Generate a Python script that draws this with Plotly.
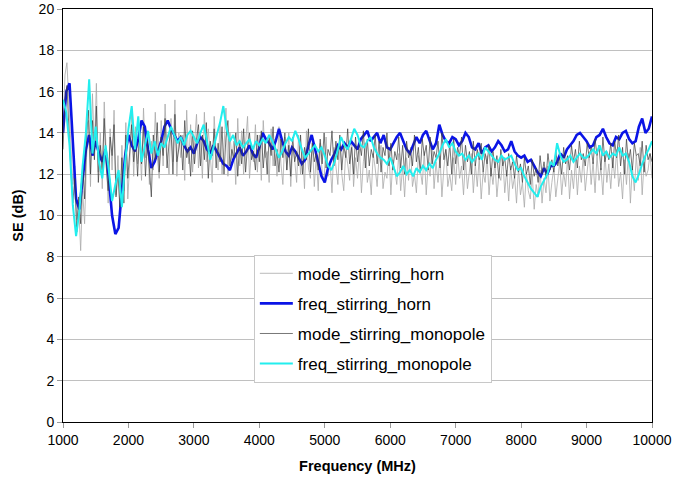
import plotly.graph_objects as go

# ---- data (SE in dB) ----
# mode stirring series: one value every 30 MHz, 1000 .. 10000 MHz
MODE_STEP = 30
mode_stirring_horn = [
    14.0, 16.8, 17.4, 15.2, 13.0, 11.5, 12.4, 9.8, 10.5, 8.3,
    11.2, 9.6, 12.8, 14.6, 11.4, 15.9, 13.2, 16.4, 12.1, 14.0,
    11.3, 15.5, 13.0, 10.6, 14.2, 12.2, 15.1, 11.0, 12.9, 9.9,
    13.4, 11.2, 14.5, 10.8, 12.6, 15.0, 11.9, 14.3, 12.5, 13.8,
    11.7, 15.2, 12.8, 14.1, 11.5, 13.6, 12.2, 15.0, 12.9, 11.8,
    14.6, 12.4, 15.4, 13.1, 12.0, 14.7, 12.6, 15.6, 11.9, 14.0,
    12.8, 13.9, 11.7, 15.1, 12.5, 14.4, 12.1, 13.5, 14.9, 12.3,
    13.7, 11.8, 15.0, 12.6, 14.2, 12.9, 11.6, 14.8, 13.0, 12.2,
    14.5, 12.0, 13.3, 15.2, 11.9, 14.0, 12.7, 13.6, 11.5, 14.7,
    12.4, 14.1, 12.0, 13.5, 14.8, 11.8, 13.2, 12.6, 14.4, 12.1,
    13.9, 11.7, 14.6, 12.8, 13.1, 11.6, 14.2, 12.4, 13.7, 11.9,
    14.3, 12.5, 11.5, 13.8, 12.2, 14.0, 11.4, 13.3, 12.7, 11.6,
    13.9, 12.0, 13.2, 11.3, 14.1, 12.3, 11.8, 13.6, 11.4, 12.9,
    11.2, 13.5, 12.1, 11.6, 13.8, 11.9, 12.6, 11.1, 13.3, 12.4,
    11.5, 13.6, 12.0, 11.2, 13.1, 12.5, 11.7, 13.9, 11.4, 12.8,
    11.8, 13.2, 11.1, 12.6, 13.5, 11.6, 12.2, 11.0, 13.0, 12.3,
    11.4, 12.9, 13.4, 11.3, 12.1, 11.8, 13.2, 11.0, 12.7, 12.2,
    11.5, 13.0, 11.2, 12.4, 10.9, 12.8, 11.7, 13.3, 11.4, 12.0,
    11.1, 12.9, 12.3, 11.5, 13.1, 11.0, 12.5, 11.9, 13.4, 11.3,
    12.6, 11.6, 12.9, 10.9, 12.3, 13.2, 11.4, 12.0, 11.2, 12.8,
    11.5, 13.1, 11.8, 12.4, 11.0, 12.7, 11.3, 12.2, 13.0, 11.1,
    12.5, 11.4, 12.8, 10.8, 12.1, 11.6, 12.9, 11.0, 12.3, 11.5,
    12.6, 10.9, 12.0, 11.7, 12.8, 11.1, 12.2, 10.7, 12.4, 11.3,
    11.9, 10.6, 12.3, 11.0, 11.6, 10.4, 12.1, 11.2, 10.8, 12.0,
    10.3, 11.5, 10.9, 12.2, 10.6, 11.8, 11.1, 12.4, 10.7, 11.6,
    12.3, 10.9, 11.7, 12.6, 11.0, 12.1, 11.4, 12.8, 10.8, 12.2,
    11.3, 12.7, 11.0, 12.4, 11.6, 12.9, 11.2, 12.0, 13.1, 11.5,
    12.6, 11.1, 12.9, 11.7, 12.3, 11.0, 13.0, 11.6, 12.5, 11.3,
    12.8, 11.8, 13.2, 11.4, 12.1, 10.8, 12.7, 11.5, 13.0, 10.6,
    12.4, 11.2, 12.9, 11.7, 13.3, 11.0, 12.6, 11.9, 12.2, 13.0,
    11.8,
]
mode_stirring_monopole = [
    13.2, 15.6, 16.3, 14.1, 12.2, 10.6, 11.8, 9.2, 10.9, 9.6,
    12.5, 10.8, 13.9, 15.1, 12.0, 14.6, 12.7, 15.3, 11.6, 13.4,
    12.2, 14.7, 12.4, 11.2, 13.8, 12.9, 14.4, 10.9, 12.1, 10.4,
    12.8, 10.6, 13.9, 11.8, 13.2, 14.4, 12.6, 13.7, 11.9, 14.1,
    12.5, 14.3, 11.9, 13.6, 12.3, 10.9, 13.9, 12.7, 14.5, 12.1,
    13.8, 12.9, 14.7, 12.3, 13.5, 14.2, 12.0, 14.9, 12.6, 13.4,
    13.9, 12.2, 14.6, 12.8, 13.3, 11.9, 14.1, 12.5, 13.7, 14.4,
    12.4, 13.9, 12.7, 14.5, 11.8, 13.6, 12.9, 14.2, 12.3, 13.5,
    12.6, 14.3, 12.0, 13.8, 14.6, 12.4, 13.2, 12.8, 14.0, 11.9,
    13.6, 12.5, 14.2, 12.1, 13.4, 14.0, 12.7, 13.1, 12.2, 13.9,
    12.6, 14.1, 12.3, 13.5, 12.0, 13.8, 12.9, 14.3, 12.4, 13.2,
    12.1, 13.7, 12.8, 14.0, 12.2, 13.4, 11.9, 13.8, 12.6, 13.1,
    12.4, 13.9, 12.0, 13.3, 12.7, 14.2, 12.1, 13.5, 12.6, 13.0,
    12.2, 13.7, 12.5, 14.0, 12.3, 13.2, 12.9, 14.1, 12.4, 13.6,
    12.7, 13.9, 12.2, 13.4, 12.8, 14.2, 12.5, 13.3, 12.0, 13.8,
    12.6, 13.5, 12.9, 14.1, 12.3, 13.7, 12.4, 13.2, 12.8, 13.9,
    12.5, 13.6, 12.1, 13.3, 12.9, 14.0, 12.4, 13.5, 12.2, 13.1,
    12.7, 13.8, 12.3, 13.4, 12.0, 13.6, 12.8, 13.2, 12.4, 13.9,
    12.6, 13.3, 12.1, 13.7, 12.9, 13.4, 12.2, 13.8, 12.5, 13.1,
    12.8, 13.6, 12.3, 14.0, 12.7, 13.2, 12.4, 13.5, 12.0, 13.7,
    12.5, 13.3, 12.9, 13.8, 12.2, 13.4, 12.6, 13.1, 12.0, 13.6,
    12.4, 13.2, 12.7, 13.5, 12.1, 13.0, 12.5, 13.4, 11.9, 13.1,
    12.3, 12.9, 11.8, 13.2, 12.4, 12.8, 11.9, 13.0, 12.2, 12.6,
    11.8, 12.9, 12.1, 12.5, 11.6, 12.8, 12.0, 12.4, 11.5, 12.7,
    11.9, 12.3, 11.6, 12.9, 12.0, 12.6, 11.8, 13.0, 12.2, 12.7,
    12.1, 13.1, 12.4, 12.8, 12.0, 13.3, 12.5, 12.9, 12.2, 13.4,
    12.6, 13.2, 12.3, 13.6, 12.7, 13.0, 12.4, 13.5, 12.8, 13.3,
    12.5, 13.7, 12.9, 13.4, 12.2, 13.8, 12.6, 13.1, 12.7, 13.5,
    12.3, 13.6, 12.8, 13.9, 12.4, 13.3, 12.0, 13.7, 12.6, 13.2,
    12.2, 13.5, 12.9, 13.0, 12.4, 13.6, 12.1, 13.4, 12.7, 13.0,
    12.6,
]

# frequency stirring series: one value every 50 MHz, 1000 .. 10000 MHz
FREQ_STEP = 50
freq_stirring_horn = [
    14.0, 16.0, 16.4, 13.8, 10.8, 10.3, 11.8, 13.2, 13.9, 12.9,
    13.6, 13.0, 12.6, 13.2, 11.8, 10.0, 9.1, 9.4, 11.2, 12.9,
    13.9, 13.4, 13.1, 13.7, 14.6, 14.3, 13.2, 12.3, 12.6, 13.1,
    13.6, 14.3, 14.6, 14.2, 13.9, 13.6, 13.8, 13.4, 13.1, 13.3,
    13.0, 13.5, 13.8, 13.6, 13.2, 13.0, 13.4, 13.1, 12.8, 12.5,
    12.4, 12.2, 12.7, 13.0, 13.3, 12.9, 13.1, 13.4, 13.0, 12.8,
    13.3, 14.0, 13.7, 13.5, 13.2, 13.6, 14.2, 13.6, 13.1, 12.9,
    13.3, 13.1, 12.8, 12.5, 12.7, 13.4, 13.9, 13.2, 12.6, 11.9,
    11.6, 12.3, 12.7, 13.0, 13.4, 13.2, 13.5, 13.3, 13.6, 13.4,
    13.2, 13.7, 13.9, 14.1, 13.6, 13.8, 14.0, 13.5, 13.9, 13.3,
    13.2, 13.5, 13.8, 14.0, 13.6, 13.2, 13.0, 13.4, 13.8, 13.5,
    13.9, 14.1, 13.6, 13.2, 13.5, 14.4, 13.9, 13.6, 13.5, 13.8,
    13.7, 13.4, 13.6, 14.0, 13.8, 13.3, 13.2, 13.5, 13.0, 13.3,
    13.4, 13.1, 13.3, 13.6, 13.4, 13.1, 13.2, 13.6, 13.1, 12.9,
    12.8, 12.9, 12.6, 12.7, 12.4, 12.1, 11.9, 12.3, 12.0, 12.4,
    12.4, 12.6, 13.0, 12.8, 13.2, 13.4, 13.6, 13.9, 14.0, 13.8,
    13.6, 13.3, 13.4, 13.8, 13.9, 14.2, 13.8, 13.5, 13.4, 13.8,
    13.7, 14.0, 14.1, 13.7, 13.5, 13.6, 14.3, 14.7, 14.0, 14.2,
    14.8,
]
freq_stirring_monopole = [
    15.6, 15.0, 13.4, 10.5, 9.0, 10.2, 12.4, 14.0, 16.6, 13.0,
    14.3, 12.6, 11.8, 13.4, 12.2, 10.7, 11.5, 12.2, 10.4, 12.6,
    14.2, 15.3, 13.2, 14.8, 12.6, 13.4, 14.1, 13.0, 13.6, 12.9,
    13.5, 13.3, 13.8, 14.3, 13.9, 13.5, 13.8, 13.4, 13.9, 14.1,
    13.8, 13.5, 14.0, 14.4, 13.6, 12.7, 13.3, 13.9, 14.5, 15.3,
    14.2, 13.6, 13.9, 13.4, 13.6, 13.3, 13.5, 13.7, 13.2, 13.6,
    13.4, 13.7, 13.5, 13.9, 13.6, 13.2, 12.8, 13.1, 13.5, 13.8,
    13.6, 14.1, 13.7, 13.2, 12.8, 13.0, 13.2, 13.4, 13.1, 13.3,
    12.9, 12.4, 12.2, 12.6, 13.2, 13.8, 13.4, 13.2, 13.7, 14.2,
    13.9, 13.4, 13.3, 13.6, 13.8, 13.3, 13.0, 12.8, 12.7, 12.5,
    12.8, 12.3, 11.9, 12.1, 12.4, 12.0, 12.2, 11.9, 12.3, 12.1,
    12.4, 12.2, 12.5, 12.3, 12.7, 13.0, 13.4, 13.7, 13.3, 13.5,
    13.1, 12.9, 13.0, 12.7, 12.9, 12.6, 12.8, 13.0, 12.7, 13.3,
    13.1, 12.9, 12.7, 12.6, 12.9, 12.7, 12.8, 12.9, 12.5, 12.2,
    12.3, 11.9, 11.6, 11.3, 11.1, 10.9, 11.4, 11.7, 12.0, 12.6,
    12.4, 13.5, 12.9, 12.6, 12.7, 12.9, 12.6, 12.8, 13.0, 12.8,
    12.8, 13.0, 13.2, 13.0, 13.4, 12.9, 13.1, 12.8, 13.0, 12.9,
    13.3, 12.9, 13.0, 12.6, 11.9, 11.6, 12.0, 12.5, 12.9, 13.2,
    13.6,
]

x_ticks = [1000, 2000, 3000, 4000, 5000, 6000, 7000, 8000, 9000, 10000]
y_ticks = [0, 2, 4, 6, 8, 10, 12, 14, 16, 18, 20]

f_mode = [1000 + MODE_STEP * i for i in range(len(mode_stirring_horn))]
f_freq = [1000 + FREQ_STEP * i for i in range(len(freq_stirring_horn))]

FONT = "Arial, Liberation Sans, sans-serif"

fig = go.Figure()
series = [
    ("mode_stirring_horn", f_mode, mode_stirring_horn, "#aaaaaa", 0.8),
    ("freq_stirring_horn", f_freq, freq_stirring_horn, "#0a14e6", 2.6),
    ("mode_stirring_monopole", f_mode, mode_stirring_monopole, "#3c3c3c", 0.7),
    ("freq_stirring_monopole", f_freq, freq_stirring_monopole, "#22eeee", 2.0),
]
for name, xs, ys, color, w in series:
    fig.add_trace(go.Scatter(
        x=xs, y=ys, mode="lines", name=name, legendgroup=name,
        line=dict(color=color, width=w),
    ))

fig.update_layout(
    width=687, height=478,
    margin=dict(l=63, r=35, t=9, b=56),
    paper_bgcolor="white", plot_bgcolor="white",
    font=dict(family=FONT, size=14, color="black"),
    showlegend=True,
    legend=dict(
        x=0.324, y=0.405, xanchor="left", yanchor="top",
        bgcolor="white", bordercolor="#c8c8c8", borderwidth=1,
        font=dict(family=FONT, size=17, color="black"),
        traceorder="grouped", tracegroupgap=5,
        itemwidth=33,
    ),
    xaxis=dict(
        range=[1000, 10000], tickvals=x_ticks,
        ticktext=[str(v) for v in x_ticks],
        showgrid=False, zeroline=False, automargin=False,
        showline=True, linecolor="black", linewidth=1, mirror=True,
        ticks="outside", ticklen=5, tickcolor="#9a9a9a",
        ticklabeloverflow="allow",
        title=dict(text="<b>Frequency (MHz)</b>", font=dict(size=14.5), standoff=14),
    ),
    yaxis=dict(
        range=[0, 20], tickvals=y_ticks,
        ticktext=[str(v) for v in y_ticks],
        showgrid=True, gridcolor="#c0c0c0", gridwidth=1, zeroline=False,
        automargin=False,
        showline=True, linecolor="black", linewidth=1, mirror=True,
        ticks="outside", ticklen=5, tickcolor="#9a9a9a",
        ticklabeloverflow="allow",
        title=dict(text="<b>SE (dB)</b>", font=dict(size=14.5), standoff=11),
    ),
)

fig.write_html(
    "out.html",
    config={"displayModeBar": False},
    post_script="document.body.style.margin='0';",
)
